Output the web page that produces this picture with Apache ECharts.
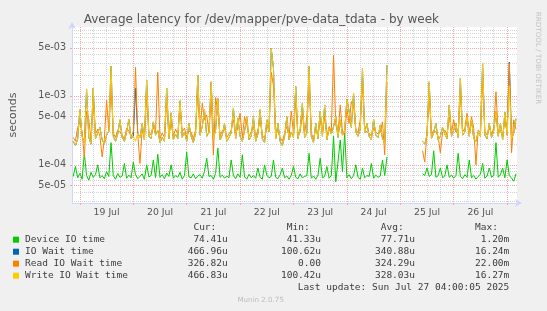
<!DOCTYPE html>
<html><head><meta charset="utf-8">
<script src="https://cdn.jsdelivr.net/npm/echarts@6/dist/echarts.min.js"></script>
<style>html,body{margin:0;padding:0;background:#f0f0f0;}#c{width:547px;height:311px;}</style>
</head><body><div id="c"></div>
<script>
const chartTitle = 'Average latency for /dev/mapper/pve-data_tdata - by week';
const yAxisName = 'seconds';
const firstSample = Date.UTC(2025, 6, 18, 21, 0);
const sampleStepMs = 3600 * 1000;

const deviceIO = [
6.8e-5,9.5e-5,6.5e-5,7.5e-5,6.2e-5,1.47e-4,7.0e-5,6.0e-5,7.8e-5,6.6e-5,
7.2e-5,1.0e-4,6.5e-5,7.0e-5,6.3e-5,8.0e-5,6.8e-5,2.1e-4,7.0e-5,6.2e-5,
7.5e-5,6.6e-5,6.9e-5,1.05e-4,6.4e-5,7.1e-5,6.5e-5,1.1e-4,7.2e-5,6.3e-5,
6.8e-5,7.4e-5,6.2e-5,1.0e-4,6.7e-5,7.0e-5,1.18e-4,6.5e-5,1.43e-4,6.6e-5,
7.2e-5,6.3e-5,7.6e-5,6.8e-5,1.0e-4,6.4e-5,7.0e-5,6.6e-5,7.8e-5,6.2e-5,
7.0e-5,1.53e-4,6.7e-5,6.5e-5,7.4e-5,6.3e-5,6.9e-5,7.2e-5,6.4e-5,8.0e-5,
1.25e-4,6.8e-5,7.0e-5,6.2e-5,7.5e-5,1.75e-4,6.6e-5,7.1e-5,6.4e-5,6.9e-5,
6.5e-5,1.18e-4,7.0e-5,6.3e-5,7.4e-5,6.6e-5,1.4e-4,6.7e-5,6.2e-5,7.3e-5,
6.5e-5,7.0e-5,6.4e-5,9.0e-5,6.6e-5,6.2e-5,1.0e-4,7.1e-5,6.5e-5,6.8e-5,
1.18e-4,6.6e-5,6.3e-5,7.2e-5,9.0e-5,6.5e-5,6.9e-5,6.2e-5,7.0e-5,9.5e-5,
6.6e-5,6.3e-5,7.4e-5,6.5e-5,6.8e-5,7.0e-5,1.47e-4,6.4e-5,6.9e-5,6.2e-5,
7.1e-5,1.25e-4,6.5e-5,6.8e-5,9.5e-5,6.4e-5,7.0e-5,2.6e-4,5.7e-5,1.1e-4,
2.3e-4,8.0e-5,2.9e-4,6.5e-5,7.2e-5,6.3e-5,7.0e-5,1.0e-4,6.6e-5,6.2e-5,
9.0e-5,6.5e-5,7.0e-5,6.8e-5,1.05e-4,6.4e-5,7.1e-5,6.6e-5,6.9e-5,1.18e-4,
7.0e-5,1.3e-4,null,null,null,null,null,null,null,null,
null,null,null,null,null,null,null,7.5e-5,7.0e-5,9.0e-5,
6.8e-5,7.2e-5,1.6e-4,6.6e-5,7.0e-5,9.0e-5,6.5e-5,6.9e-5,1.0e-4,6.6e-5,
7.1e-5,6.4e-5,7.0e-5,1.47e-4,6.8e-5,6.3e-5,7.2e-5,6.6e-5,1.18e-4,6.5e-5,
7.0e-5,6.2e-5,6.8e-5,7.3e-5,1.05e-4,6.4e-5,6.9e-5,9.0e-5,6.6e-5,7.0e-5,
2.1e-4,6.6e-5,7.2e-5,9.0e-5,6.5e-5,1.18e-4,7.0e-5,6.4e-5,5.8e-5,7.44e-5
];

const ioWait = [
2.2e-4,1.9e-4,2.4e-4,6.3e-4,2.6e-4,2.1e-4,1.25e-3,2.5e-4,2.0e-4,1.3e-3,
2.4e-4,2.9e-4,3.5e-4,2.3e-4,2.0e-4,2.7e-4,3.1e-4,2.7e-3,2.6e-4,2.2e-4,
2.8e-4,4.5e-4,2.5e-4,2.2e-4,3.0e-4,4.6e-4,2.4e-4,2.6e-4,1.3e-3,2.9e-4,
2.5e-4,4.0e-4,2.3e-4,1.7e-3,2.6e-4,2.4e-4,4.2e-4,2.7e-4,3.2e-4,2.1e-4,
2.5e-4,2.2e-4,1.3e-3,2.4e-4,5.7e-4,2.3e-4,2.8e-4,2.4e-4,8.5e-4,2.5e-4,
3.0e-4,2.2e-4,4.0e-4,2.6e-4,2.1e-4,2.9e-4,2.0e-3,2.7e-4,3.6e-4,6.3e-4,
2.6e-4,3.0e-4,1.6e-3,2.4e-4,3.2e-4,9.2e-4,2.3e-4,2.7e-4,4.0e-4,2.2e-4,
2.5e-4,2.9e-4,6.7e-4,2.4e-4,4.8e-4,2.6e-4,2.2e-4,3.1e-4,5.0e-4,2.3e-4,
2.6e-4,5.0e-4,2.2e-4,2.8e-4,6.3e-4,2.4e-4,2.1e-4,4.5e-4,3.0e-4,4.9e-3,
2.5e-3,2.4e-4,4.0e-4,2.2e-4,1.9e-4,2.6e-4,5.0e-4,2.3e-4,3.0e-4,2.5e-4,
1.37e-3,2.4e-4,3.3e-4,7.8e-4,2.5e-4,2.9e-4,2.7e-3,2.6e-4,2.1e-4,4.0e-4,
2.4e-4,6.0e-4,2.6e-4,7.4e-4,2.3e-4,3.4e-4,2.8e-4,3.6e-4,5.0e-4,2.5e-4,
4.5e-4,2.7e-4,3.2e-4,9.0e-4,6.0e-4,3.5e-4,1.1e-3,3.0e-4,2.6e-4,3.3e-4,
2.5e-3,2.9e-4,4.0e-4,2.6e-4,2.3e-4,4.6e-4,2.7e-4,2.5e-4,3.8e-4,2.4e-4,
2.1e-4,2.8e-3,null,null,null,null,null,null,null,null,
null,null,null,null,null,null,null,2.2e-4,2.0e-4,2.7e-4,
1.6e-3,2.4e-4,2.9e-4,4.0e-4,2.3e-4,2.6e-4,3.5e-4,2.8e-4,2.4e-4,7.4e-4,
2.6e-4,3.2e-4,4.0e-4,2.5e-4,1.8e-3,2.7e-4,3.0e-4,5.0e-4,2.6e-4,4.5e-4,
2.4e-4,2.2e-4,3.0e-4,2.6e-4,3.0e-3,2.7e-4,2.4e-4,4.0e-4,2.5e-4,3.1e-4,
6.0e-4,2.6e-4,4.0e-4,2.3e-4,5.8e-4,2.7e-4,3.1e-3,2.4e-4,2.9e-4,4.67e-4
];

const readWait = [
2.5e-4,2.2e-4,3.5e-4,4.2e-4,3.0e-4,1.3e-4,6.0e-4,4.5e-4,2.3e-4,8.0e-4,
2.8e-4,3.3e-4,2.6e-4,1.3e-4,2.4e-4,8.7e-4,3.0e-4,1.4e-3,2.9e-4,2.5e-4,
3.2e-4,3.0e-4,2.7e-4,2.4e-4,3.4e-4,3.1e-4,2.6e-4,3.0e-4,2.6e-3,2.8e-4,
1.05e-4,3.2e-4,2.5e-4,1.1e-3,3.0e-4,2.7e-4,3.5e-4,3.0e-4,2.2e-3,2.4e-4,
2.9e-4,2.5e-4,9.0e-4,2.7e-4,4.0e-4,2.6e-4,3.3e-4,2.8e-4,7.4e-4,3.0e-4,
3.4e-4,2.5e-4,3.1e-4,3.0e-4,2.4e-4,3.2e-4,1.2e-3,3.1e-4,7.8e-4,4.5e-4,
5.3e-4,2.9e-4,1.0e-3,1.4e-4,9.5e-4,6.0e-4,2.6e-4,3.1e-4,3.4e-4,2.5e-4,
2.8e-4,3.2e-4,4.5e-4,2.7e-4,3.5e-4,5.6e-4,2.5e-4,5.0e-4,3.8e-4,2.6e-4,
3.0e-4,3.6e-4,2.5e-4,3.2e-4,4.4e-4,2.7e-4,2.4e-4,3.5e-4,3.3e-4,2.2e-3,
1.4e-3,2.7e-4,3.2e-4,2.5e-4,2.2e-4,2.9e-4,3.6e-4,2.6e-4,6.0e-4,2.8e-4,
9.0e-4,2.7e-4,3.0e-4,5.5e-4,2.8e-4,5.0e-4,1.6e-3,2.9e-4,2.4e-4,3.3e-4,
2.7e-4,4.5e-4,2.9e-4,5.0e-4,2.6e-4,3.6e-4,3.1e-4,3.9e-3,3.8e-4,2.8e-4,
7.4e-4,3.0e-4,2.7e-4,6.5e-4,4.0e-4,8.3e-4,7.0e-4,3.3e-4,2.9e-4,4.5e-4,
1.5e-3,3.2e-4,3.0e-4,2.9e-4,2.6e-4,3.4e-4,3.0e-4,2.8e-4,3.0e-4,4.2e-4,
1.4e-4,1.6e-3,null,null,null,null,null,null,null,null,
null,null,null,null,null,null,null,1.6e-4,1.1e-4,3.0e-4,
1.0e-3,2.7e-4,3.2e-4,3.0e-4,2.6e-4,1.5e-4,3.0e-4,3.2e-4,2.7e-4,5.0e-4,
2.9e-4,4.5e-4,3.0e-4,2.8e-4,1.1e-3,3.0e-4,3.4e-4,5.6e-4,2.9e-4,5.0e-4,
3.4e-4,1.0e-4,3.2e-4,2.9e-4,1.8e-3,3.0e-4,2.7e-4,3.5e-4,2.8e-4,3.4e-4,
1.15e-3,2.9e-4,3.2e-4,2.6e-4,4.4e-4,3.0e-4,3.0e-3,1.5e-4,4.5e-4,3.27e-4
];

const writeWait = [
2.2e-4,1.9e-4,2.4e-4,6.3e-4,2.6e-4,2.1e-4,1.25e-3,2.5e-4,2.0e-4,1.3e-3,
2.4e-4,2.9e-4,3.5e-4,2.3e-4,2.0e-4,2.7e-4,3.1e-4,2.7e-3,2.6e-4,2.2e-4,
2.8e-4,4.5e-4,2.5e-4,2.2e-4,3.0e-4,4.6e-4,2.4e-4,2.6e-4,2.2e-4,2.9e-4,
2.5e-4,4.0e-4,2.3e-4,1.7e-3,2.6e-4,2.4e-4,4.2e-4,2.7e-4,3.2e-4,2.1e-4,
2.5e-4,2.2e-4,1.3e-3,2.4e-4,5.7e-4,2.3e-4,2.8e-4,2.4e-4,8.5e-4,2.5e-4,
3.0e-4,2.2e-4,4.0e-4,2.6e-4,2.1e-4,2.9e-4,2.0e-3,2.7e-4,3.6e-4,6.3e-4,
2.6e-4,3.0e-4,1.6e-3,2.4e-4,3.2e-4,9.2e-4,2.3e-4,2.7e-4,4.0e-4,2.2e-4,
2.5e-4,2.9e-4,6.7e-4,2.4e-4,4.8e-4,2.6e-4,2.2e-4,3.1e-4,5.0e-4,2.3e-4,
2.6e-4,5.0e-4,2.2e-4,2.8e-4,6.3e-4,2.4e-4,2.1e-4,4.5e-4,3.0e-4,4.9e-3,
2.5e-3,2.4e-4,4.0e-4,2.2e-4,1.9e-4,2.6e-4,5.0e-4,2.3e-4,3.0e-4,2.5e-4,
1.37e-3,2.4e-4,3.3e-4,7.8e-4,2.5e-4,2.9e-4,2.7e-3,2.6e-4,2.1e-4,4.0e-4,
2.4e-4,6.0e-4,2.6e-4,7.4e-4,2.3e-4,3.4e-4,2.8e-4,3.6e-4,5.0e-4,2.5e-4,
4.5e-4,2.7e-4,3.2e-4,9.0e-4,6.0e-4,3.5e-4,1.1e-3,3.0e-4,2.6e-4,3.3e-4,
2.5e-3,2.9e-4,4.0e-4,2.6e-4,2.3e-4,4.6e-4,2.7e-4,2.5e-4,3.8e-4,2.4e-4,
2.1e-4,2.8e-3,null,null,null,null,null,null,null,null,
null,null,null,null,null,null,null,2.2e-4,2.0e-4,2.7e-4,
1.6e-3,2.4e-4,2.9e-4,4.0e-4,2.3e-4,2.6e-4,3.5e-4,2.8e-4,2.4e-4,7.4e-4,
2.6e-4,3.2e-4,4.0e-4,2.5e-4,1.8e-3,2.7e-4,3.0e-4,5.0e-4,2.6e-4,4.5e-4,
2.4e-4,2.2e-4,3.0e-4,2.6e-4,3.0e-3,2.7e-4,2.4e-4,4.0e-4,2.5e-4,3.1e-4,
6.0e-4,2.6e-4,4.0e-4,2.3e-4,5.8e-4,2.7e-4,1.4e-3,2.4e-4,2.9e-4,4.67e-4
];

const seriesNames = ['Device IO time', 'IO Wait time', 'Read IO Wait time', 'Write IO Wait time'];
const seriesValues = [deviceIO, ioWait, readWait, writeWait];
const seriesColors = ['#00cc00', '#0066b3', '#ff8000', '#ffcc00'];
const legendHeaders = ['Cur:', 'Min:', 'Avg:', 'Max:'];
const curValues = ['74.41u', '466.96u', '326.82u', '466.83u'];
const minValues = ['41.33u', '100.62u', '0.00', '100.42u'];
const avgValues = ['77.71u', '340.88u', '324.29u', '328.03u'];
const maxValues = ['1.20m', '16.24m', '22.00m', '16.27m'];
const lastUpdate = 'Last update: Sun Jul 27 04:00:05 2025';
const footer = 'Munin 2.0.75';
const watermark = 'RRDTOOL / TOBI OETIKER';

const xLabels = ['19 Jul', '20 Jul', '21 Jul', '22 Jul', '23 Jul', '24 Jul', '25 Jul', '26 Jul'];
const xLabelDays = [19, 20, 21, 22, 23, 24, 25, 26];
const xMajorDays = [19, 20, 21, 22, 23, 24, 25, 26, 27];
const xMinorHours = [6, 12, 18];
const yTickValues = [5e-5, 1e-4, 5e-4, 1e-3, 5e-3];
const yTickLabels = ['5e-05', '1e-04', '5e-04', '1e-03', '5e-03'];
const yMinorValues = [3e-5, 4e-5, 6e-5, 7e-5, 8e-5, 9e-5, 2e-4, 3e-4, 4e-4, 6e-4, 7e-4, 8e-4, 9e-4,
  2e-3, 3e-3, 4e-3, 6e-3, 7e-3, 8e-3, 9e-3];
const yMin = 2.8e-5, yMax = 1e-2;
const xMin = Date.UTC(2025, 6, 18, 20, 27);
const xMax = Date.UTC(2025, 6, 27, 4, 27);

const DAY = 86400000;
const labelTimes = xLabelDays.map(d => Date.UTC(2025, 6, d, 12));
const majorTimes = xMajorDays.map(d => Date.UTC(2025, 6, d, 0));
const minorTimes = [];
xLabelDays.forEach(d => xMinorHours.forEach(h => minorTimes.push(Date.UTC(2025, 6, d, h))));

const GRID_RED = '#f2a6a6';
const GRID_GRAY = '#d4d4d4';
const AXIS_COL = '#cfd6f8';
const FONT_COL = '#555555';
const LEGEND_COL = '#3c3c3c';

const chart = echarts.init(document.getElementById('c'), null, {renderer: 'canvas'});

const seriesList = seriesValues.map((vals, k) => ({
  name: seriesNames[k],
  type: 'line',
  xAxisIndex: 0, yAxisIndex: 0,
  showSymbol: false,
  symbol: 'none',
  connectNulls: false,
  lineStyle: {color: seriesColors[k], width: 1},
  itemStyle: {color: seriesColors[k]},
  z: 3 + k,
  data: vals.map((v, i) => [firstSample + i * sampleStepMs, v])
}));

const g = [];
const mono = 'DejaVu Sans Mono';
function txt(x, y, s, align, size, color, family) {
  g.push({type: 'text', x: x, y: y, silent: true,
    style: {text: s, fill: color || LEGEND_COL, fontSize: size || 9.5, fontFamily: family || mono,
      align: align || 'left', verticalAlign: 'middle', textAlign: align || 'left', textVerticalAlign: 'middle'}});
}
txt(261.3, 19.5, chartTitle, 'center', 12, '#555555', 'DejaVu Sans');
g.push({type: 'text', x: 538, y: 58, rotation: -Math.PI / 2, silent: true,
  style: {text: watermark, fill: '#c4c4c4', fontSize: 7.2, fontFamily: 'DejaVu Sans',
    align: 'center', verticalAlign: 'middle', textAlign: 'center', textVerticalAlign: 'middle'}});
const colRight = [227.7, 321, 415, 509.3];
legendHeaders.forEach((h, c) => txt(colRight[c] - 11.4, 227.7, h, 'right'));
seriesNames.forEach((n, r) => {
  const y = 239.7 + r * 12;
  g.push({type: 'rect', silent: true, shape: {x: 13, y: y - 3, width: 6, height: 6}, style: {fill: seriesColors[r]}});
  txt(25, y, n, 'left');
  txt(colRight[0], y, curValues[r], 'right');
  txt(colRight[1], y, minValues[r], 'right');
  txt(colRight[2], y, avgValues[r], 'right');
  txt(colRight[3], y, maxValues[r], 'right');
});
txt(509.3, 287.7, lastUpdate, 'right');
txt(260.7, 300, footer, 'center', 7.1, '#bdbdbd', 'DejaVu Sans');

const option = {
  animation: false,
  backgroundColor: '#f0f0f0',
  grid: {left: 67, right: 30, top: 27, bottom: 108, show: true, backgroundColor: '#ffffff', borderWidth: 0},
  xAxis: [
    {
      type: 'value', min: xMin, max: xMax, position: 'bottom',
      axisLine: {show: true, onZero: false, lineStyle: {color: AXIS_COL, width: 1}, symbol: ['none', 'arrow'], symbolSize: [6, 7], symbolOffset: [0, 5]},
      axisTick: {show: true, customValues: majorTimes, length: 2, inside: false, lineStyle: {color: GRID_RED}},
      axisLabel: {show: true, customValues: labelTimes, color: FONT_COL, fontSize: 9.3, fontFamily: 'DejaVu Sans', margin: 5,
        formatter: v => { const i = Math.round((v - labelTimes[0]) / DAY); return xLabels[i] || ''; }},
      splitLine: {show: true, showMinLine: true, showMaxLine: true, lineStyle: {color: GRID_RED, width: 1, type: [1, 1]}},
      z: 2
    },
    {
      type: 'value', min: xMin, max: xMax, position: 'bottom',
      axisLine: {show: false},
      axisTick: {show: false, customValues: minorTimes},
      axisLabel: {show: false},
      splitLine: {show: true, lineStyle: {color: GRID_GRAY, width: 1, type: [1, 1]}},
      z: 1
    }
  ],
  yAxis: [
    {
      type: 'log', logBase: 10, min: yMin, max: yMax,
      name: yAxisName, nameLocation: 'middle', nameGap: 53, nameRotate: 90,
      nameTextStyle: {color: FONT_COL, fontSize: 11, fontFamily: 'DejaVu Sans'},
      axisLine: {show: true, onZero: false, lineStyle: {color: AXIS_COL, width: 1}, symbol: ['none', 'arrow'], symbolSize: [6, 7], symbolOffset: [0, 5]},
      axisTick: {show: true, customValues: yTickValues, length: 2, lineStyle: {color: GRID_RED}},
      axisLabel: {show: true, customValues: yTickValues, color: FONT_COL, fontSize: 9.6, fontFamily: 'DejaVu Sans', margin: 6,
        formatter: v => { const i = yTickValues.findIndex(t => Math.abs(t - v) / t < 1e-6); return i >= 0 ? yTickLabels[i] : ''; }},
      splitLine: {show: true, lineStyle: {color: GRID_RED, width: 1, type: [1, 1]}},
      minorTick: {show: false}, minorSplitLine: {show: false},
      z: 2
    },
    {
      type: 'log', logBase: 10, min: yMin, max: yMax,
      axisLine: {show: false},
      axisTick: {show: false, customValues: yMinorValues},
      axisLabel: {show: false},
      splitLine: {show: true, lineStyle: {color: GRID_GRAY, width: 1, type: [1, 1]}},
      z: 1
    }
  ],
  series: seriesList,
  graphic: g
};
chart.setOption(option);
</script>
</body></html>
